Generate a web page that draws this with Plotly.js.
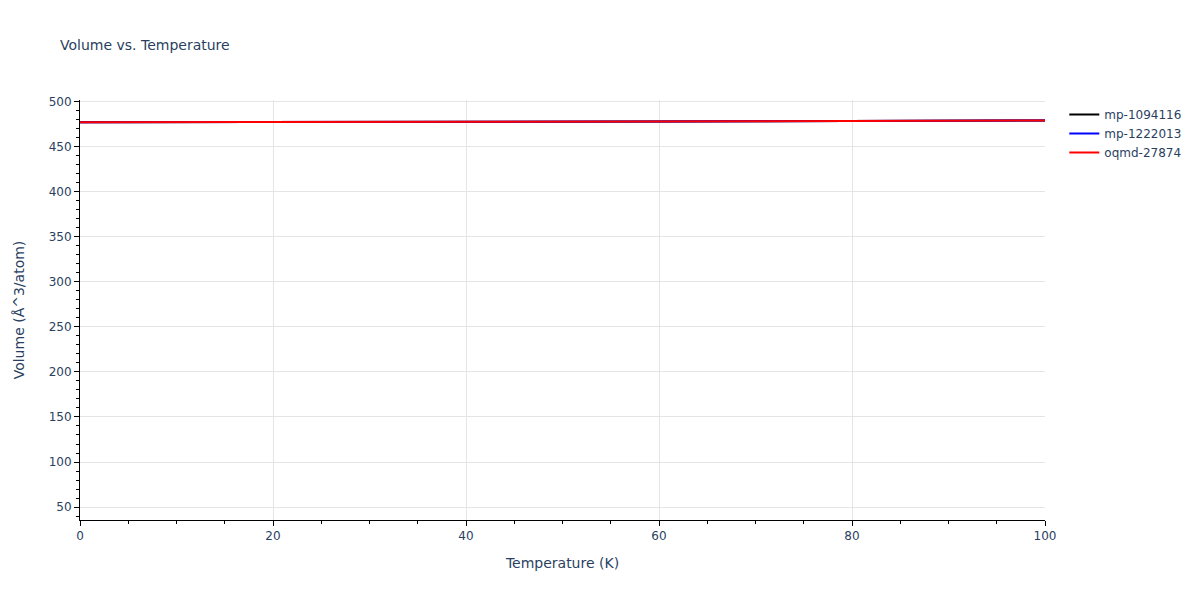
<!DOCTYPE html>
<html>
<head>
<meta charset="utf-8">
<script src="https://cdn.plot.ly/plotly-3.0.1.min.js"></script>
<style>
  body { margin: 0; }
  #volChart { width: 1200px; height: 600px; }
</style>
</head>
<body>
<div id="volChart"></div>
<script>
volChart = document.getElementById("volChart");

// temperatures (K)
var temps = [0, 10, 20, 30, 40, 50, 60, 70, 80, 90, 100];
// all three curves sit on top of each other, the red one is drawn last
var volMp1094116 = [477.3, 477.3, 477.4, 477.5, 477.6, 477.8, 478.0, 478.3, 478.6, 478.9, 479.2];
var volMp1222013 = [477.3, 477.3, 477.4, 477.5, 477.6, 477.8, 478.0, 478.3, 478.6, 478.9, 479.2];
var volOqmd27874 = [477.3, 477.3, 477.4, 477.5, 477.6, 477.8, 478.0, 478.3, 478.6, 478.9, 479.2];

var data = [
  { x: temps, y: volMp1094116, name: 'mp-1094116', mode: 'lines', line: {color: 'black', width: 2} },
  { x: temps, y: volMp1222013, name: 'mp-1222013', mode: 'lines', line: {color: 'blue', width: 2} },
  { x: temps, y: volOqmd27874, name: 'oqmd-27874', mode: 'lines', line: {color: 'red', width: 2} }
];

var layout = {
  font: {family: 'DejaVu Sans', color: '#2a3f5f', size: 12},
  title: {text: 'Volume vs. Temperature', font: {size: 14}, x: 0.05},
  margin: {l: 80, r: 155, t: 100, b: 80},
  plot_bgcolor: 'white',
  paper_bgcolor: 'white',
  xaxis: {
    title: {text: 'Temperature (K)', font: {size: 14}, standoff: 15},
    range: [0, 100],
    dtick: 20,
    showline: true, linecolor: 'black',
    ticks: 'outside', tickcolor: 'black',
    minor: {dtick: 5, ticks: 'outside', tickcolor: 'black', showgrid: false},
    gridcolor: '#e5e5e5',
    zeroline: false
  },
  yaxis: {
    title: {text: 'Volume (Å^3/atom)', font: {size: 14}, standoff: 20},
    range: [35.6, 502],
    dtick: 50,
    showline: true, linecolor: 'black',
    ticks: 'outside', tickcolor: 'black',
    minor: {dtick: 10, ticks: 'outside', tickcolor: 'black', showgrid: false},
    gridcolor: '#e5e5e5',
    zeroline: false
  },
  legend: {x: 1.02, y: 1}
};

Plotly.newPlot(volChart, data, layout, {displayModeBar: false});
</script>
</body>
</html>
